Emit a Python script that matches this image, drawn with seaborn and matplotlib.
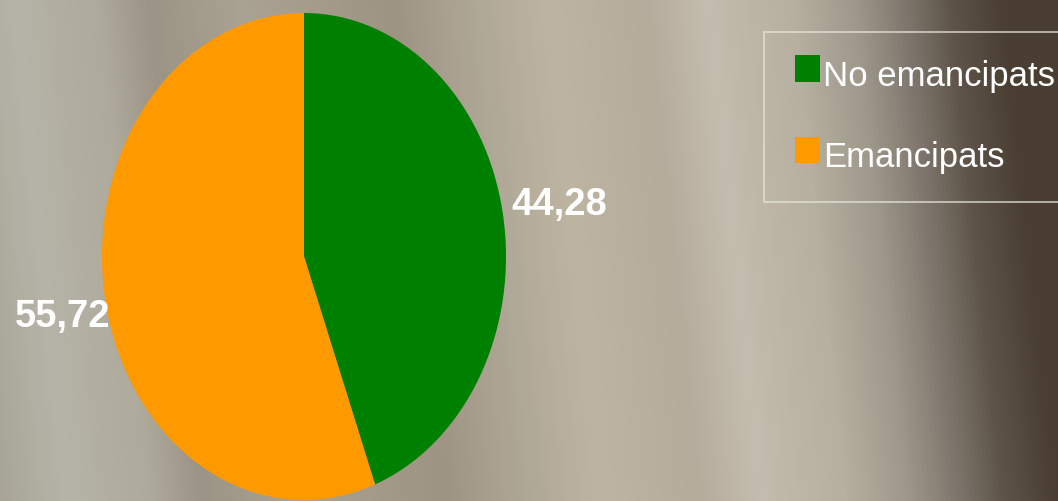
import numpy as np
import matplotlib
matplotlib.use('Agg')
import matplotlib.pyplot as plt
import matplotlib.patches as mpatches
from matplotlib.legend_handler import HandlerPatch
import seaborn as sns
from matplotlib.colors import LinearSegmentedColormap

# dades
categories = ['No emancipats', 'Emancipats']
values = [44.28, 55.72]
value_labels = ['44,28', '55,72']
slice_colors = ['#008000', '#ff9900']

# colors del fons (degradat horitzontal)
bg_stops = [
    (0.00, '#a8a498'), (0.06, '#b6b4a8'), (0.14, '#aeaa9c'), (0.19, '#9c9486'),
    (0.28, '#aaa292'), (0.42, '#9e9484'), (0.50, '#b0a896'), (0.57, '#beb4a2'),
    (0.66, '#b6ac9c'), (0.72, '#c4bcae'), (0.80, '#b6b0a0'), (0.86, '#9e988c'),
    (0.91, '#7c746a'), (0.95, '#5e544a'), (1.00, '#4a3e32'),
]

sns.set_theme(style='white')
plt.rcParams['font.family'] = ['Liberation Sans', 'DejaVu Sans']

W, H = 1058, 501
fig = plt.figure(figsize=(W / 100, H / 100), dpi=100)

# fons
bg = fig.add_axes([0, 0, 1, 1])
cmap = LinearSegmentedColormap.from_list('fons', bg_stops)
X, Y = np.meshgrid(np.linspace(0, 1, W), np.linspace(0, 1, H))
U = np.clip(X + 0.05 * (1 - Y), 0, 1)
bg.imshow(U, cmap=cmap, vmin=0, vmax=1, aspect='auto', interpolation='bilinear')
bg.axis('off')

# pastis (el·líptic)
ax = fig.add_axes([102 / W, 1 / H, 404 / W, 487 / H])
wedges, texts = ax.pie(
    values, colors=slice_colors, startangle=90, counterclock=False,
    labels=value_labels, labeldistance=1.05,
    wedgeprops=dict(linewidth=0),
    textprops=dict(color='white', fontsize=27.5, fontweight='bold'),
)
ax.set_aspect('auto')
ax.set_xlim(-1, 1)
ax.set_ylim(-1, 1)
ax.axis('off')

texts[0].set_position((1.025, 0.21))
texts[0].set_ha('left')
texts[0].set_va('center')
texts[1].set_position((-0.96, -0.247))
texts[1].set_ha('right')
texts[1].set_va('center')


def quadret(legend, orig_handle, xdescent, ydescent, width, height, fontsize):
    # quadret una mica per sobre de la línia base, com a l'original
    return mpatches.Rectangle((-xdescent + 2.2, -ydescent + 3.8), width, height)


leg = fig.legend(
    wedges, categories, loc='upper left',
    bbox_to_anchor=(764 / W, 1 - 32 / H), bbox_transform=fig.transFigure,
    borderaxespad=0, frameon=True, fancybox=False, fontsize=25,
    handlelength=0.72, handleheight=0.81, handletextpad=0.17,
    labelspacing=1.4, borderpad=0.8,
    edgecolor='#e6e6dc', facecolor='none',
    handler_map={mpatches.Wedge: HandlerPatch(patch_func=quadret)},
)
leg.get_frame().set_linewidth(1.2)
for t in leg.get_texts():
    t.set_color('white')

fig.savefig('out.png', dpi=100)
